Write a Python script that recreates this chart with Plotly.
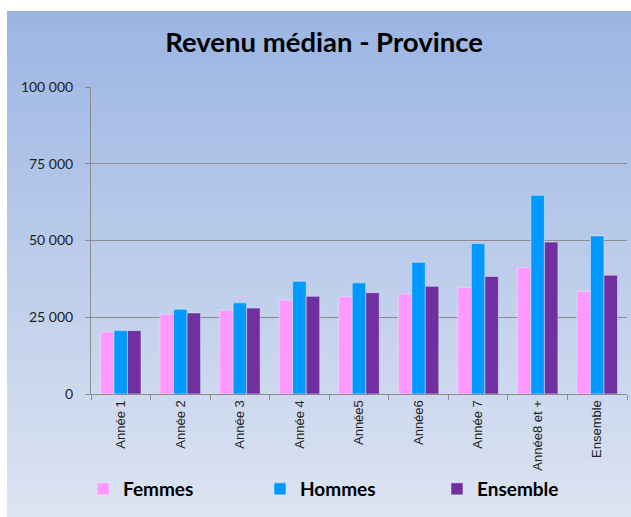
import plotly.graph_objects as go

categories = ["Année 1", "Année 2", "Année 3", "Année 4", "Année5", "Année6",
              "Année 7", "Année8 et +", "Ensemble"]
femmes = [20200, 26000, 27300, 30600, 31700, 32600, 34600, 41200, 33400]
hommes = [20650, 27600, 29700, 36700, 36200, 42900, 49000, 64700, 51500]
ensemble = [20650, 26400, 28000, 31800, 33000, 35100, 38300, 49500, 38700]
y_ticks = [0, 25000, 50000, 75000, 100000]

W, H = 631, 517
L, R, T, B = 91, 4, 87, 123
pw, ph = W - L - R, H - T - B

def px_x(p):
    return (p - L) / pw

def px_y(p):
    return (H - B - p) / ph

fig = go.Figure()
fig.add_trace(go.Bar(name="Femmes", x=categories, y=femmes, marker_color="#FF99FF"))
fig.add_trace(go.Bar(name="Hommes", x=categories, y=hommes, marker_color="#0099FF"))
fig.add_trace(go.Bar(name="Ensemble", x=categories, y=ensemble, marker_color="#7030A0"))

# gradient background
shapes = []
top = (155, 181, 227)
bot = (221, 228, 242)
n = 80
y0p, y1p = 11, 517
for i in range(n):
    a = y0p + (y1p - y0p) * i / n
    b = y0p + (y1p - y0p) * (i + 1) / n
    t = (i + 0.5) / n
    c = tuple(round(top[k] + (bot[k] - top[k]) * t) for k in range(3))
    shapes.append(dict(type="rect", xref="paper", yref="paper",
                       x0=px_x(7), x1=px_x(W + 20), y0=px_y(b + 0.6), y1=px_y(a),
                       fillcolor="rgb(%d,%d,%d)" % c, line=dict(width=0),
                       layer="below"))

fig.update_layout(
    width=W, height=H,
    margin=dict(l=L, r=R, t=T, b=B, pad=0, autoexpand=False),
    paper_bgcolor="white",
    plot_bgcolor="rgba(0,0,0,0)",
    shapes=shapes,
    separators=", ",
    font=dict(family="Lato", color="#222222"),
    title=dict(text="<b>Revenu médian - Province</b>", x=px_x(324), xanchor="center",
               xref="paper", y=1 - 42 / H, yanchor="middle",
               font=dict(size=27.5, color="#000000")),
    barmode="group",
    bargap=0.32,
    bargroupgap=0,
    showlegend=True,
    legend=dict(orientation="h", x=px_x(83), xanchor="left", y=px_y(489), yanchor="middle",
                font=dict(size=19, color="#000000", family="Lato", weight="bold"),
                entrywidth=132, entrywidthmode="pixels", bgcolor="rgba(0,0,0,0)",
                itemwidth=30),
    xaxis=dict(showline=True, linecolor="#8C8C8C", linewidth=1,
               ticks="outside", ticklen=5, tickcolor="#8C8C8C", tickson="boundaries",
               tickangle=-90, tickfont=dict(size=13, family="Liberation Sans", color="#222222"),
               showgrid=False),
    yaxis=dict(range=[0, 100000], tickvals=y_ticks, tickformat=",d",
               showline=True, linecolor="#8C8C8C", linewidth=1,
               ticks="outside", ticklen=5, tickcolor="#8C8C8C",
               ticklabelstandoff=9,
               tickfont=dict(size=14, family="Lato", color="#222222"),
               showgrid=True, gridcolor="#8C8C8C", gridwidth=1, zeroline=False),
)

fig.write_html("out.html", config={"displayModeBar": False},
               post_script="document.body.style.margin='0';document.body.style.overflow='hidden';")
